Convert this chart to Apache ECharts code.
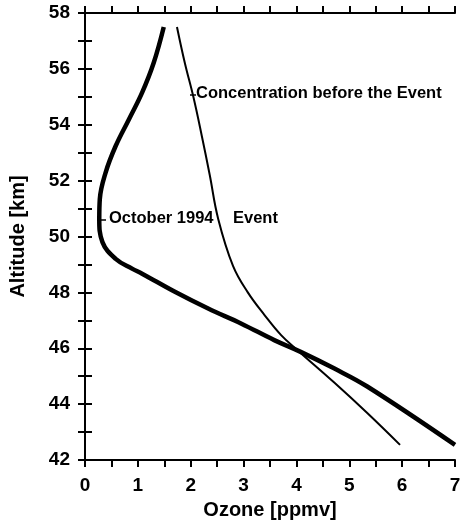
<!DOCTYPE html>
<html>
<head>
<meta charset="utf-8">
<script src="https://cdn.jsdelivr.net/npm/echarts@6/dist/echarts.min.js"></script>
<style>
  body { margin: 0; background: #fff; }
  #grafico { width: 465px; height: 525px; }
</style>
</head>
<body>
<div id="grafico"></div>
<script>
// ozone profile, thick line (after the event): [ozone ppmv, altitude km]
var evento = [
  [1.49, 57.5], [1.30, 56.22], [1.08, 55.15], [0.83, 54.19], [0.58, 53.24],
  [0.39, 52.29], [0.28, 51.34], [0.27, 50.63], [0.33, 49.8], [0.58, 49.2],
  [0.89, 48.85], [1.08, 48.67], [1.71, 48.01], [2.33, 47.42], [2.96, 46.88],
  [3.58, 46.29], [4.08, 45.87], [4.71, 45.28], [5.34, 44.63], [7.0, 42.54]
];
// thin line (before the event)
var antes = [
  [1.74, 57.5], [1.89, 56.2], [2.05, 55.0], [2.21, 53.6], [2.36, 52.2],
  [2.52, 50.63], [2.80, 48.95], [3.08, 48.0], [3.40, 47.18],
  [3.71, 46.47], [4.02, 45.93], [4.71, 44.78], [5.34, 43.68], [5.96, 42.54]
];
var xTicks = [0, 7, 0.5];   // min, max, step
var yTicks = [42, 58, 1];

var fonte = 'Liberation Sans, Arial, sans-serif';
var linha = { lineStyle: { color: '#000', width: 2 } };
var tick = { show: true, length: 7, lineStyle: { color: '#000', width: 2 } };

var myChart = echarts.init(document.getElementById('grafico'));
var option = {
  animation: false,
  grid: { left: 82, right: 10, top: 13, bottom: 63 },
  xAxis: [
    {
      type: 'value', min: xTicks[0], max: xTicks[1], interval: xTicks[2],
      name: 'Ozone [ppmv]', nameLocation: 'middle', nameGap: 40,
      nameTextStyle: { fontFamily: fonte, fontWeight: 'bold', fontSize: 20, color: '#000' },
      axisLine: linha, axisTick: tick, splitLine: { show: false },
      axisLabel: {
        margin: 16, fontFamily: fonte, fontWeight: 'bold', fontSize: 19, color: '#000',
        formatter: function (v) { return v % 1 === 0 ? String(v) : ''; }
      }
    },
    {
      type: 'value', position: 'top', min: xTicks[0], max: xTicks[1], interval: xTicks[2],
      axisLine: linha, axisTick: tick, axisLabel: { show: false }, splitLine: { show: false }
    }
  ],
  yAxis: [
    {
      type: 'value', min: yTicks[0], max: yTicks[1], interval: yTicks[2],
      name: 'Altitude [km]', nameLocation: 'middle', nameGap: 57,
      nameTextStyle: { fontFamily: fonte, fontWeight: 'bold', fontSize: 20, color: '#000' },
      axisLine: linha, axisTick: tick, splitLine: { show: false },
      axisLabel: {
        margin: 15, fontFamily: fonte, fontWeight: 'bold', fontSize: 19, color: '#000',
        formatter: function (v) { return v % 2 === 0 ? String(v) : ''; }
      }
    },
    {
      type: 'value', position: 'right', min: yTicks[0], max: yTicks[1], interval: yTicks[2],
      axisLine: linha, axisTick: tick, axisLabel: { show: false }, splitLine: { show: false }
    }
  ],
  series: [
    {
      name: 'October 1994 Event', type: 'line', data: evento,
      smooth: 0.4, symbol: 'none', lineStyle: { color: '#000', width: 4.5 }
    },
    {
      name: 'Concentration before the Event', type: 'line', data: antes,
      smooth: 0.4, symbol: 'none', lineStyle: { color: '#000', width: 2 }
    }
  ],
  graphic: [
    { type: 'line', shape: { x1: 190, y1: 95, x2: 196, y2: 95 }, style: { stroke: '#000', lineWidth: 1.5 } },
    { type: 'text', left: 196, top: 85,
      style: { text: 'Concentration before the Event', font: 'bold 16.5px ' + fonte, fill: '#000' } },
    { type: 'line', shape: { x1: 100, y1: 220, x2: 106, y2: 220 }, style: { stroke: '#000', lineWidth: 1.5 } },
    { type: 'text', left: 109, top: 210,
      style: { text: 'October 1994', font: 'bold 16.5px ' + fonte, fill: '#000' } },
    { type: 'text', left: 233, top: 210,
      style: { text: 'Event', font: 'bold 16.5px ' + fonte, fill: '#000' } }
  ]
};
myChart.setOption(option);
</script>
</body>
</html>
